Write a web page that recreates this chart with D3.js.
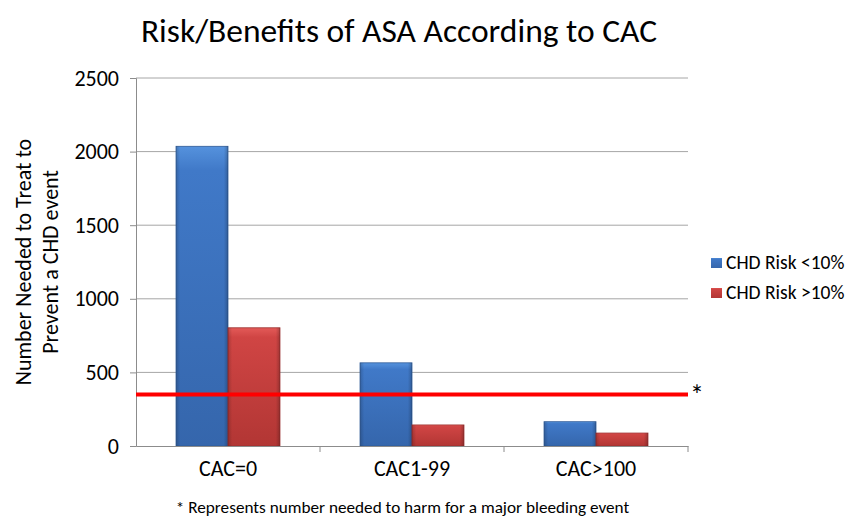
<!DOCTYPE html>
<html>
<head>
<meta charset="utf-8">
<script src="https://cdn.jsdelivr.net/npm/d3@7"></script>
<style>
  body { margin: 0; background: #fff; }
  text { font-family: Carlito, "Open Sans", "Liberation Sans", sans-serif; fill: #000; }
</style>
</head>
<body>
<div id="chart"></div>
<script>
const categories = ["CAC=0", "CAC1-99", "CAC>100"];
const seriesNames = ["CHD Risk <10%", "CHD Risk >10%"];
const lowRisk = [2036, 565, 165];
const highRisk = [803, 143, 88];
const harmLine = 350;
const yTicks = [0, 500, 1000, 1500, 2000, 2500];

const width = 856, height = 517;
const margin = { top: 78, right: 168, bottom: 71, left: 136 };
const innerW = width - margin.left - margin.right;
const innerH = height - margin.top - margin.bottom;
const fontFam = 'Carlito, "Open Sans", sans-serif';

const svg = d3.select("#chart").append("svg")
    .attr("width", width)
    .attr("height", height);

// gradients for the bevelled bars
const defs = svg.append("defs");
const colors = [
    { id: "gBlue", top: "#5592dd", mid: "#4079c8", bot: "#3566ac" },
    { id: "gRed", top: "#e35a58", mid: "#d04544", bot: "#b23634" }
];
colors.forEach(c => {
    const g = defs.append("linearGradient").attr("id", c.id)
        .attr("x1", 0).attr("y1", 0).attr("x2", 0).attr("y2", 1);
    g.append("stop").attr("offset", "0%").attr("stop-color", c.top);
    g.append("stop").attr("offset", "8%").attr("stop-color", c.mid);
    g.append("stop").attr("offset", "100%").attr("stop-color", c.bot);
    const h = defs.append("linearGradient").attr("id", c.id + "h")
        .attr("x1", 0).attr("y1", 0).attr("x2", 1).attr("y2", 0);
    h.append("stop").attr("offset", "0%").attr("stop-color", "#000").attr("stop-opacity", 0.18);
    h.append("stop").attr("offset", "8%").attr("stop-color", "#000").attr("stop-opacity", 0);
    h.append("stop").attr("offset", "92%").attr("stop-color", "#000").attr("stop-opacity", 0);
    h.append("stop").attr("offset", "100%").attr("stop-color", "#000").attr("stop-opacity", 0.22);
});

const g = svg.append("g").attr("transform", `translate(${margin.left},${margin.top})`);

const x0 = d3.scaleBand().domain(categories).range([0, innerW]).paddingInner(0).paddingOuter(0);
const x1 = d3.scaleBand().domain(seriesNames).range([0, x0.bandwidth()]).paddingInner(0).paddingOuter(0.77);
const y = d3.scaleLinear().domain([0, 2500]).range([innerH, 0]);

// gridlines
g.selectAll(".grid").data(yTicks.filter(d => d > 0)).enter().append("line")
    .attr("x1", 0).attr("x2", innerW)
    .attr("y1", d => y(d)).attr("y2", d => y(d))
    .attr("stroke", "#a6a6a6").attr("stroke-width", 1);

// bars
const data = categories.map((c, i) => ({ cat: c, vals: [lowRisk[i], highRisk[i]] }));
const groups = g.selectAll(".grp").data(data).enter().append("g")
    .attr("transform", d => `translate(${x0(d.cat)},0)`);
groups.selectAll(".bar").data(d => d.vals.map((v, j) => ({ v, s: seriesNames[j], j }))).enter()
    .each(function (d) {
        const sel = d3.select(this);
        const bx = x1(d.s), bw = x1.bandwidth(), by = y(d.v), bh = innerH - y(d.v);
        sel.append("rect").attr("x", bx).attr("y", by).attr("width", bw).attr("height", bh)
            .attr("fill", `url(#${colors[d.j].id})`)
            .attr("stroke", d.j === 0 ? "#2f5a96" : "#9a2e2d").attr("stroke-width", 0.8);
        sel.append("rect").attr("x", bx).attr("y", by).attr("width", bw).attr("height", bh)
            .attr("fill", `url(#${colors[d.j].id}h)`);
    });

// axes
const yAxis = g.append("g").call(d3.axisLeft(y).tickValues(yTicks).tickFormat(d3.format("d"))
    .tickSize(6).tickPadding(11));
yAxis.select(".domain").attr("stroke", "#8c8c8c");
yAxis.selectAll(".tick line").attr("stroke", "#8c8c8c");
yAxis.selectAll(".tick text").attr("font-size", 22).attr("font-family", fontFam);

const xAxis = g.append("g").attr("transform", `translate(0,${innerH})`)
    .call(d3.axisBottom(x0).tickSize(0).tickPadding(14.5));
xAxis.select(".domain").attr("stroke", "#8c8c8c");
xAxis.selectAll(".tick text").attr("font-size", 22).attr("font-family", fontFam);
// category separator ticks
g.selectAll(".sep").data(categories).enter().append("line")
    .attr("x1", d => x0(d) + x0.bandwidth()).attr("x2", d => x0(d) + x0.bandwidth())
    .attr("y1", innerH).attr("y2", innerH + 6)
    .attr("stroke", "#8c8c8c");

// harm line
g.append("line")
    .attr("x1", 0).attr("x2", innerW)
    .attr("y1", y(harmLine)).attr("y2", y(harmLine))
    .attr("stroke", "#ff0000").attr("stroke-width", 4);
g.append("text").attr("x", innerW + 2).attr("y", y(harmLine) + 11)
    .attr("font-size", 28).text("*");

// title
svg.append("text").attr("x", 399).attr("y", 42).attr("text-anchor", "middle")
    .attr("font-size", 33.5).text("Risk/Benefits of ASA According to CAC");

// y-axis title
const yt = svg.append("text").attr("transform", "translate(0,262) rotate(-90)")
    .attr("text-anchor", "middle").attr("font-size", 22);
yt.append("tspan").attr("x", 0).attr("y", 31).text("Number Needed to Treat to");
yt.append("tspan").attr("x", 0).attr("y", 58).text("Prevent a CHD event");

// legend
const legend = svg.append("g").attr("transform", "translate(711,263)");
seriesNames.forEach((s, i) => {
    const lg = legend.append("g").attr("transform", `translate(0,${i * 30})`);
    lg.append("rect").attr("x", 0).attr("y", -5).attr("width", 11).attr("height", 10)
        .attr("fill", `url(#${colors[i].id})`);
    lg.append("text").attr("x", 15).attr("y", 6).attr("font-size", 19.5).text(s);
});

// footnote
svg.append("text").attr("x", 402.5).attr("y", 513).attr("text-anchor", "middle")
    .attr("font-size", 17.2).text("* Represents number needed to harm for a major bleeding event");
</script>
</body>
</html>
